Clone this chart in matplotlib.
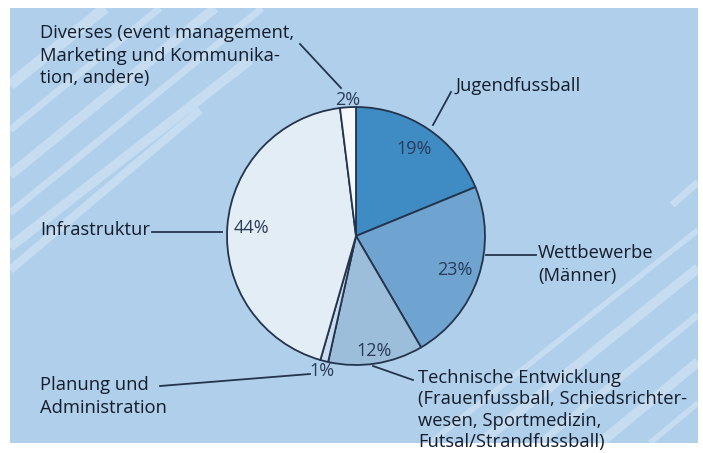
import numpy as np
import matplotlib.pyplot as plt
from matplotlib.patches import Rectangle

plt.rcParams['font.family'] = ['Open Sans', 'DejaVu Sans']

# Daten
kategorien = ['Jugendfussball', 'Wettbewerbe\n(Männer)',
              'Technische Entwicklung\n(Frauenfussball, Schiedsrichter-\nwesen, Sportmedizin,\nFutsal/Strandfussball)',
              'Planung und\nAdministration', 'Infrastruktur',
              'Diverses (event management,\nMarketing und Kommunika-\ntion, andere)']
anteile = [19, 23, 12, 1, 44, 2]
farben = ['#3f8bc3', '#6fa3d0', '#9dbedb', '#c9dced', '#e2edf6', '#f6f9fc']

W, H = 703, 453
fig = plt.figure(figsize=(W / 100, H / 100), dpi=100)
fig.patch.set_facecolor('white')
ax = fig.add_axes([0, 0, 1, 1])

def py(y):  # Pixel von oben -> Achsenkoordinate
    return H - y

# Hintergrund mit Streifen
panel = Rectangle((10, py(443)), 688, 435, facecolor='#afcfea', edgecolor='none', zorder=0)
ax.add_patch(panel)
streifen = [((10, 85), (105, 8), 8), ((10, 130), (160, 8), 5), ((10, 175), (215, 8), 7),
            ((10, 213), (262, 8), 5), ((10, 247), (250, 60), 7), ((10, 270), (200, 110), 6),
            ((430, 443), (698, 230), 4), ((480, 443), (698, 268), 7), ((540, 443), (698, 315), 5),
            ((600, 443), (698, 362), 7), ((650, 443), (698, 403), 4), ((672, 205), (698, 182), 5)]
for (x0, y0), (x1, y1), lw in streifen:
    ln, = ax.plot([x0, x1], [py(y0), py(y1)], color='#c6ddf1', lw=lw, solid_capstyle='butt', zorder=1)
    ln.set_clip_path(panel)

# Kreisdiagramm
cx, cy, r = 356, 236, 129
wedges, texts, pcts = ax.pie(anteile, colors=farben, startangle=90, counterclock=False,
                             center=(cx, py(cy)), radius=r, frame=True,
                             autopct='%d%%', pctdistance=0.8,
                             wedgeprops=dict(edgecolor='#25344d', linewidth=1.3),
                             textprops=dict(fontsize=13, color='#2a3b57'))
for w, t, v in zip(wedges, pcts, anteile):
    t.set_text(f'{v}%')
    mid = np.deg2rad((w.theta1 + w.theta2) / 2)
    d = 1.08 if v == 1 else (1.06 if v == 2 else (0.9 if v == 12 else 0.81))
    t.set_position((cx + d * r * np.cos(mid), py(cy) + d * r * np.sin(mid)))
    t.set_zorder(5)

# Beschriftungen mit Hinweislinien
txt = dict(fontsize=13.2, color='#151d2c', zorder=5, ha='left')
ax.text(40, py(24), kategorien[5], va='top', linespacing=1.33, **txt)
ax.text(455, py(86), kategorien[0], va='center', **txt)
ax.text(538, py(244), kategorien[1], va='top', linespacing=1.33, **txt)
ax.text(40, py(230), kategorien[4], va='center', **txt)
ax.text(40, py(376), kategorien[3], va='top', linespacing=1.33, **txt)
ax.text(418, py(369), kategorien[2], va='top', linespacing=1.24, **txt)

linien = [((300, 44), (341, 88)), ((451, 92), (433, 125)), ((486, 255), (536, 255)),
          ((152, 232), (222, 232)), ((160, 386), (310, 374)), ((413, 380), (373, 366))]
for (x0, y0), (x1, y1) in linien:
    ax.plot([x0, x1], [py(y0), py(y1)], color='#25344d', lw=1.3, zorder=4)

ax.set_xlim(0, W)
ax.set_ylim(0, H)
ax.set_aspect('equal')
ax.axis('off')

fig.savefig('out.png', dpi=100)
